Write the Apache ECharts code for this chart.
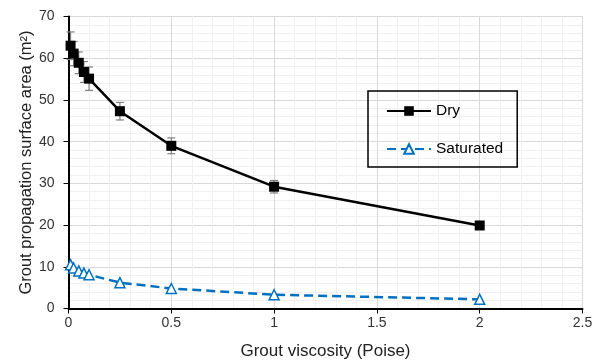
<!DOCTYPE html>
<html>
<head>
<meta charset="utf-8">
<script src="https://cdn.jsdelivr.net/npm/echarts@6/dist/echarts.min.js"></script>
<style>html,body{margin:0;padding:0;background:#fff;}#c{width:606px;height:360px;}</style>
</head>
<body>
<div id="c"></div>
<script>
const viscosity = [0.01, 0.025, 0.05, 0.075, 0.1, 0.25, 0.5, 1.0, 2.0];
const dryArea = [63.0, 61.1, 58.9, 56.7, 55.1, 47.3, 39.0, 29.2, 19.9];
const dryError = [3.3, 2.9, 2.6, 2.5, 2.8, 2.1, 1.9, 1.5, 0.6];
const saturatedArea = [10.5, 9.7, 9.0, 8.5, 8.1, 6.2, 4.8, 3.3, 2.2];
const xTicks = [0, 0.5, 1, 1.5, 2, 2.5];
const yTicks = [0, 10, 20, 30, 40, 50, 60, 70];

const chart = echarts.init(document.getElementById('c'), null, {renderer: 'canvas'});
const font = 'Liberation Sans, Arial, sans-serif';
const errData = viscosity.map((x, i) => [x, dryArea[i] - dryError[i], dryArea[i] + dryError[i]]);

chart.setOption({
  animation: false,
  backgroundColor: '#fff',
  grid: {left: 68.5, right: 23.5, top: 16.5, bottom: 51.5, containLabel: false, outerBoundsMode: 'none'},
  xAxis: {
    type: 'value', min: xTicks[0], max: xTicks[xTicks.length - 1], interval: 0.5,
    name: 'Grout viscosity (Poise)', nameLocation: 'middle', nameGap: 34,
    nameTextStyle: {fontFamily: font, fontSize: 17, color: '#222'},
    axisLine: {show: true, onZero: false, lineStyle: {color: '#000', width: 2}},
    axisTick: {show: true, length: 5, lineStyle: {color: '#000', width: 1}},
    axisLabel: {fontFamily: font, fontSize: 14, color: '#333', margin: 8},
    splitLine: {show: true, lineStyle: {color: '#d9d9d9', width: 1}},
    minorTick: {show: false, splitNumber: 5},
    minorSplitLine: {show: true, lineStyle: {color: '#f0f0f0', width: 1}}
  },
  yAxis: {
    type: 'value', min: yTicks[0], max: yTicks[yTicks.length - 1], interval: 10,
    name: 'Grout propagation surface area (m²)', nameLocation: 'middle', nameGap: 34,
    nameMoveOverlap: false,
    nameTextStyle: {fontFamily: font, fontSize: 16.5, color: '#222'},
    axisLine: {show: true, lineStyle: {color: '#000', width: 2}},
    axisTick: {show: true, length: 5, lineStyle: {color: '#000', width: 1}},
    axisLabel: {fontFamily: font, fontSize: 14, color: '#333', margin: 14},
    splitLine: {show: true, lineStyle: {color: '#d9d9d9', width: 1}},
    minorTick: {show: false, splitNumber: 5},
    minorSplitLine: {show: true, lineStyle: {color: '#f0f0f0', width: 1}}
  },
  legend: {
    orient: 'vertical', left: 368, top: 91,
    borderColor: '#000', borderWidth: 1.5, borderRadius: 0,
    padding: [12, 14, 10, 18], itemGap: 22, itemWidth: 44, itemHeight: 12,
    textStyle: {fontFamily: font, fontSize: 15.5, color: '#000'},
    data: ['Dry', 'Saturated']
  },
  series: [
    {
      name: 'Dry error', type: 'custom', silent: true, z: 1,
      data: errData,
      renderItem: function (params, api) {
        const x = api.value(0);
        const lo = api.coord([x, api.value(1)]);
        const hi = api.coord([x, api.value(2)]);
        const w = 4;
        const st = {stroke: '#808080', lineWidth: 1.2};
        return {type: 'group', children: [
          {type: 'line', shape: {x1: lo[0], y1: lo[1], x2: hi[0], y2: hi[1]}, style: st},
          {type: 'line', shape: {x1: lo[0] - w, y1: lo[1], x2: lo[0] + w, y2: lo[1]}, style: st},
          {type: 'line', shape: {x1: hi[0] - w, y1: hi[1], x2: hi[0] + w, y2: hi[1]}, style: st}
        ]};
      }
    },
    {
      name: 'Dry', type: 'line', z: 3,
      data: viscosity.map((x, i) => [x, dryArea[i]]),
      symbol: 'rect', symbolSize: 10,
      lineStyle: {color: '#000', width: 2.5},
      itemStyle: {color: '#000', borderColor: '#000', borderWidth: 0}
    },
    {
      name: 'Saturated', type: 'line', z: 2,
      data: viscosity.map((x, i) => [x, saturatedArea[i]]),
      symbol: 'triangle', symbolSize: 10,
      lineStyle: {color: '#0070C0', width: 2.5, type: [9, 5]},
      itemStyle: {color: '#fff', borderColor: '#0070C0', borderWidth: 1.5}
    }
  ]
});
</script>
</body>
</html>
